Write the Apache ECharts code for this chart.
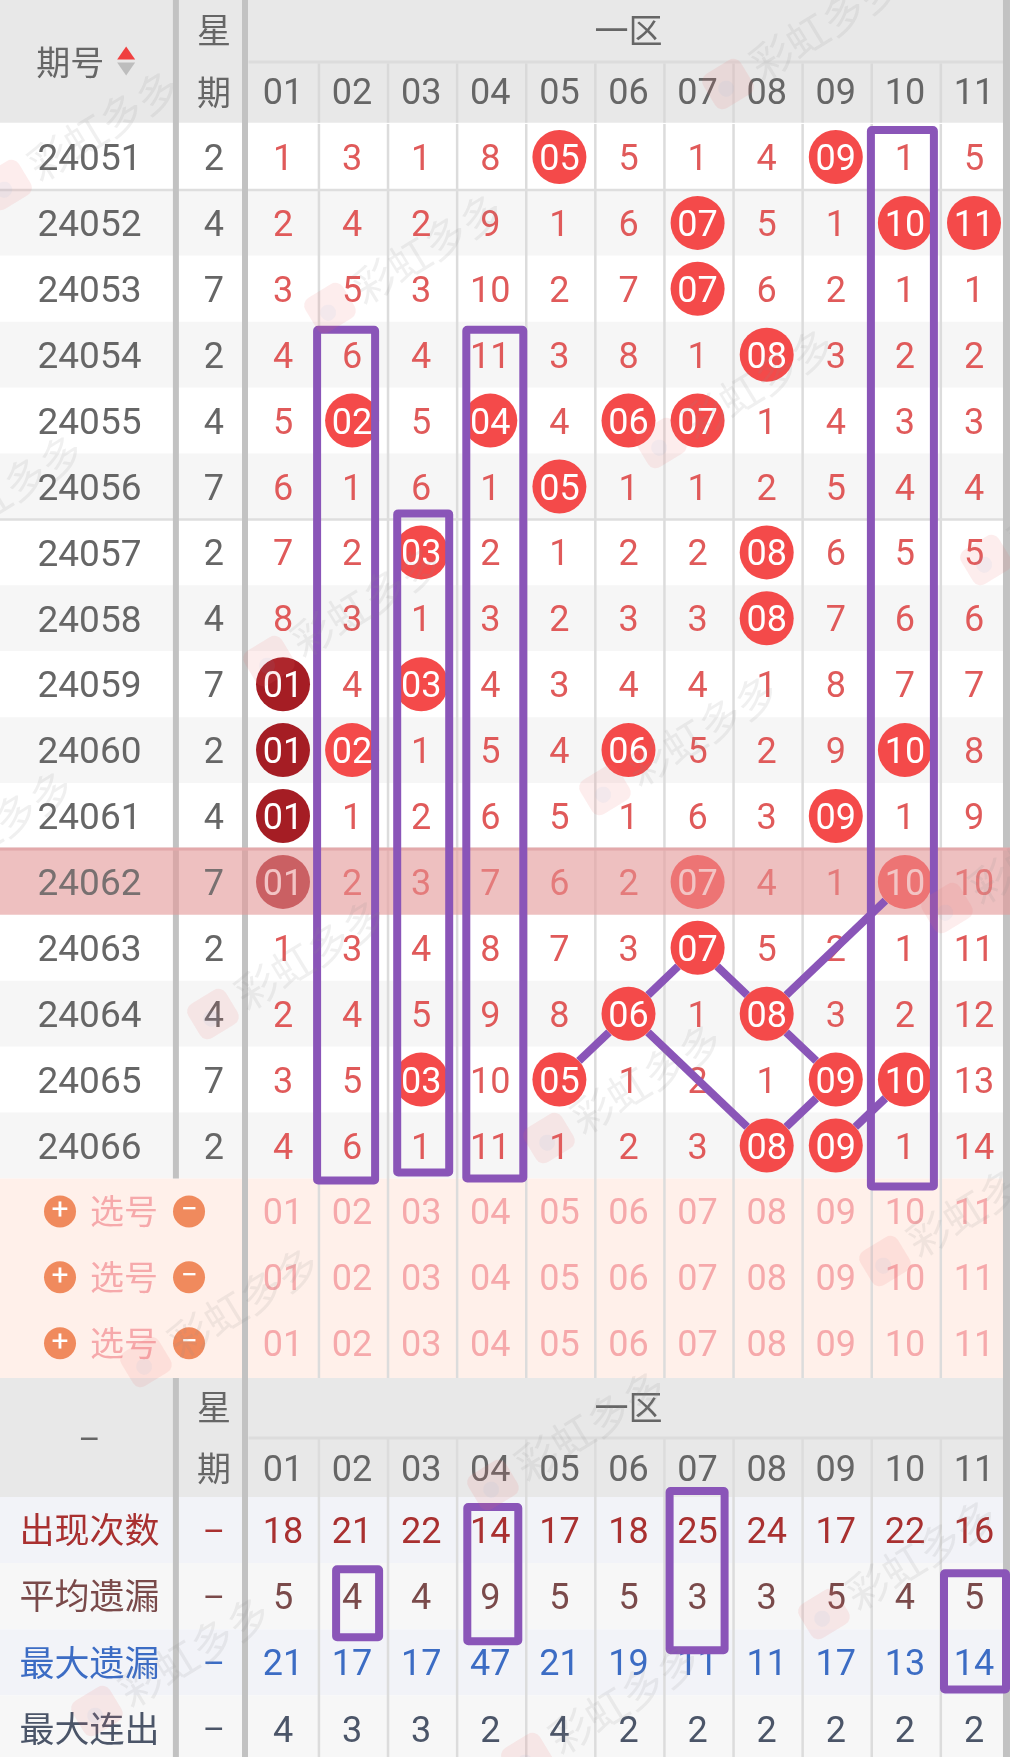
<!DOCTYPE html>
<html>
<head>
<meta charset="utf-8">
<style>html,body{margin:0;padding:0;background:#fff}#c{width:1010px;height:1757px}</style>
<script src="https://cdn.jsdelivr.net/npm/echarts@6/dist/echarts.min.js"></script>
</head>
<body>
<div id="c"></div>
<script>
// ---------- data ----------
const columns = ['01','02','03','04','05','06','07','08','09','10','11'];
const issues = ['24051','24052','24053','24054','24055','24056','24057','24058','24059','24060','24061','24062','24063','24064','24065','24066'];
const weekdays = [2,4,7,2,4,7,2,4,7,2,4,7,2,4,7,2];
// 0 = the number was drawn in that issue (ball); otherwise the miss count
const r24051 = [1,3,1,8,0,5,1,4,0,1,5];
const r24052 = [2,4,2,9,1,6,0,5,1,0,0];
const r24053 = [3,5,3,10,2,7,0,6,2,1,1];
const r24054 = [4,6,4,11,3,8,1,0,3,2,2];
const r24055 = [5,0,5,0,4,0,0,1,4,3,3];
const r24056 = [6,1,6,1,0,1,1,2,5,4,4];
const r24057 = [7,2,0,2,1,2,2,0,6,5,5];
const r24058 = [8,3,1,3,2,3,3,0,7,6,6];
const r24059 = [0,4,0,4,3,4,4,1,8,7,7];
const r24060 = [0,0,1,5,4,0,5,2,9,0,8];
const r24061 = [0,1,2,6,5,1,6,3,0,1,9];
const r24062 = [0,2,3,7,6,2,0,4,1,0,10];
const r24063 = [1,3,4,8,7,3,0,5,2,1,11];
const r24064 = [2,4,5,9,8,0,1,0,3,2,12];
const r24065 = [3,5,0,10,0,1,2,1,0,0,13];
const r24066 = [4,6,1,11,1,2,3,0,0,1,14];
const drawRows = [r24051,r24052,r24053,r24054,r24055,r24056,r24057,r24058,r24059,r24060,r24061,r24062,r24063,r24064,r24065,r24066];
const statNames = ['出现次数','平均遗漏','最大遗漏','最大连出'];
const statCount = [18,21,22,14,17,18,25,24,17,22,16];
const statAvg   = [5,4,4,9,5,5,3,3,5,4,5];
const statMax   = [21,17,17,47,21,19,11,11,17,13,14];
const statRun   = [4,3,3,2,4,2,2,2,2,2,2];
const statRows = [statCount,statAvg,statMax,statRun];
// annotation links: [col, issue] -> [col, issue]
const links = [
  [4,'24065',5,'24064'],[5,'24064',6,'24063'],[6,'24063',7,'24064'],[7,'24064',8,'24065'],
  [5,'24064',7,'24066'],[7,'24066',8,'24065'],[7,'24064',9,'24062'],[8,'24066',9,'24065']
];
// annotation boxes in cell terms
const drawBoxes = [[1,'24054','24066'],[2,'24057','24066'],[3,'24054','24066'],[9,'24051','24066']];
const statBoxes = [[3,0,1],[1,1,1],[6,0,1],[10,1,2]];

// ---------- layout / style ----------
const drawBoxPad = [[35,25,23,35],[24,39,28,27],[24,25,33,33],[34,27,29,41]]; // left, top, right, bottom px
const statBoxPad = [[23,23,28,45],[16,27,27,41],[28,39,27,54],[30,23,32,27]];
const COLW = 69.1, COL0 = 283;
const xMin = -COL0/COLW, xMax = (1010-COL0)/COLW;
const ROWH = 65.9, ROW0 = 157, SPLIT = 1378;
const ROWH2 = 66.2, ROW02 = 1530;
const NUMX = -2.8, WEEKX = -1, RIGHT = 10.47;
const DIGIT = 'Roboto, "Noto Sans CJK SC", sans-serif';
const CJK = '"Noto Sans CJK SC", sans-serif';
const PURPLE = '#8a55b8', RED = '#f44a4a', DARK = '#a51d24';
const GRAYTXT = '#666', CELLRED = '#e05a5a', PICKTXT = '#f6a9ab';
const statColors = ['#a93030','#7a4a4a','#3c6cc4','#4b5568'];
const DY = 4; // digit baseline nudge

function rects(g, items, z){ // [x0,y0,x1,y1,color]
  return {type:'custom', xAxisIndex:g, yAxisIndex:g, z, silent:true, clip:false, animation:false,
    data:items.map(d=>d.slice(0,4)), encode:{x:[0,2],y:[1,3]},
    renderItem:(p,api)=>{
      const a=api.coord([api.value(0),api.value(1)]), b=api.coord([api.value(2),api.value(3)]);
      return {type:'rect',shape:{x:a[0],y:a[1],width:b[0]-a[0],height:b[1]-a[1]},style:{fill:items[p.dataIndex][4]}};
    }};
}
function lines(g, items, z){ // [x0,y0,x1,y1,color,width,trimPx]
  return {type:'custom', xAxisIndex:g, yAxisIndex:g, z, silent:true, clip:false, animation:false,
    data:items.map(d=>d.slice(0,4)), encode:{x:[0,2],y:[1,3]},
    renderItem:(p,api)=>{
      const it=items[p.dataIndex];
      let a=api.coord([api.value(0),api.value(1)]), b=api.coord([api.value(2),api.value(3)]);
      const t=it[6]||0;
      if(t){const dx=b[0]-a[0],dy=b[1]-a[1],l=Math.hypot(dx,dy);
        a=[a[0]+dx/l*t,a[1]+dy/l*t]; b=[b[0]-dx/l*t,b[1]-dy/l*t];}
      return {type:'line',shape:{x1:a[0],y1:a[1],x2:b[0],y2:b[1]},style:{stroke:it[4],lineWidth:it[5]}};
    }};
}
function texts(g, items, z){ // [x,y,text,color,size,font]
  return {type:'custom', xAxisIndex:g, yAxisIndex:g, z, silent:true, clip:false, animation:false,
    data:items.map(d=>d.slice(0,2)), encode:{x:0,y:1},
    renderItem:(p,api)=>{
      const it=items[p.dataIndex], c=api.coord([api.value(0),api.value(1)]);
      const off = it[5] ? 0 : DY;
      return {type:'text',x:c[0],y:c[1]+off,style:{text:it[2],fill:it[3],font:`${it[4]}px ${it[5]||DIGIT}`,align:'center',verticalAlign:'middle'}};
    }};
}
function boxes(g, items, z){ // [col,row0,row1,l,t,r,b]
  return {type:'custom', xAxisIndex:g, yAxisIndex:g, z, silent:true, clip:false, animation:false,
    data:items.map(d=>d.slice(0,3)), encode:{x:0,y:[1,2]},
    renderItem:(p,api)=>{
      const it=items[p.dataIndex];
      const a=api.coord([api.value(0),api.value(1)]), b=api.coord([api.value(0),api.value(2)]);
      const x=a[0]-it[3], y=a[1]-it[4];
      return {type:'rect',shape:{x,y,width:it[3]+it[5],height:b[1]+it[6]-y,r:1},style:{fill:'none',stroke:PURPLE,lineWidth:8,lineJoin:'round'}};
    }};
}

const idx = s => issues.indexOf(s);
const hi = idx('24062');
const series = [];

// --- backgrounds, top grid
const yTop = -ROW0/ROWH, yBot = (SPLIT-ROW0)/ROWH;
const bg0 = [[xMin,yTop,xMax,-0.52,'#e8e8e8']];
issues.forEach((s,i)=>bg0.push([xMin,i-0.5,xMax,i+0.5,i%2?'#f6f6f6':'#ffffff']));
bg0.push([xMin,15.5,xMax,yBot,'#fff0ea']);
series.push(rects(0,bg0,1));

const sep0 = [];
for(let i=0;i<10;i++){
  sep0.push([i+0.52,-1.42,i+0.52,-0.52,'#d9d9d9',2.5]);
  sep0.push([i+0.52,-0.5,i+0.52,yBot,'#dcdcdc',2.5]);
}
sep0.push([-0.5,-1.44,RIGHT,-1.44,'#dcdcdc',3]);
[0.5,5.5,10.5].forEach(y=>sep0.push([xMin,y,xMax,y,'#dedede',2.5]));
sep0.push([-1.55,yTop,-1.55,15.5,'#c2c2c2',6]);
sep0.push([-0.55,yTop,-0.55,yBot,'#c2c2c2',6]);
sep0.push([RIGHT,yTop,RIGHT,yBot,'#c2c2c2',7]);
series.push(lines(0,sep0,2));

// --- text, top grid
const t0 = [
  [-3.08,-1.44,'期号',GRAYTXT,34,CJK],
  [WEEKX,-1.93,'星',GRAYTXT,34,CJK],
  [WEEKX,-0.99,'期',GRAYTXT,34,CJK],
  [5,-1.93,'一区',GRAYTXT,34,CJK]
];
const t0top = [];
columns.forEach((c,i)=>t0.push([i,-1,c,GRAYTXT,36]));
issues.forEach((s,k)=>{
  (k===hi?t0top:t0).push([NUMX,k,s,k===hi?'#787070':GRAYTXT,37]);
  (k===hi?t0top:t0).push([WEEKX,k,String(weekdays[k]),k===hi?'#787070':GRAYTXT,36]);
  drawRows[k].forEach((v,i)=>{ if(v) t0.push([i,k,String(v),CELLRED,36]); });
});
[16,17,18].forEach(k=>{
  t0.push([-2.3,k,'选号',PICKTXT,34,CJK]);
  columns.forEach((c,i)=>t0.push([i,k,c,PICKTXT,36]));
});
series.push(texts(0,t0,3));

// --- balls
const balls = [];
drawRows.forEach((r,k)=>r.forEach((v,i)=>{ if(!v) balls.push([i,k,columns[i]]); }));
series.push({type:'scatter',xAxisIndex:0,yAxisIndex:0,z:4,silent:true,animation:false,symbol:'circle',symbolSize:54,
  data:balls,
  itemStyle:{color:p=>p.data[0]===0?DARK:RED,opacity:1},
  label:{show:true,position:'inside',offset:[0,DY],formatter:p=>p.data[2],color:'#fff',fontFamily:'Roboto',fontSize:36}});

// --- pick controls
const plus=[],minus=[];
[16,17,18].forEach(k=>{plus.push([-3.227,k,'+']);minus.push([-1.36,k,'−']);});
[plus,minus].forEach(d=>series.push({type:'scatter',xAxisIndex:0,yAxisIndex:0,z:4,silent:true,animation:false,symbol:'circle',symbolSize:32,
  data:d,itemStyle:{color:'#f08a5d',opacity:1},
  label:{show:true,position:'inside',formatter:p=>p.data[2],color:'#fff',fontFamily:'Roboto',fontSize:30}}));

// --- sort triangles
series.push({type:'scatter',xAxisIndex:0,yAxisIndex:0,z:4,silent:true,animation:false,symbol:'triangle',symbolSize:[18,13],
  data:[[-2.27,-1.58]],itemStyle:{color:'#f04040',opacity:1}});
series.push({type:'scatter',xAxisIndex:0,yAxisIndex:0,z:4,silent:true,animation:false,symbol:'triangle',symbolSize:[18,13],symbolRotate:180,
  data:[[-2.27,-1.335]],itemStyle:{color:'#bdbdbd',opacity:1}});

// --- highlighted row overlay
series.push(rects(0,[[xMin,hi-0.5,xMax,hi+0.5,'rgba(232,150,150,0.56)']],5));
series.push(lines(0,[[xMin,hi-0.5,xMax,hi-0.5,'#e3a9ab',3]],5));
series.push(texts(0,t0top,6));

// --- links + boxes, top grid
series.push(lines(0,links.map(l=>[l[0],idx(l[1]),l[2],idx(l[3]),PURPLE,8,27]),6));
series.push(boxes(0,drawBoxes.map((b,i)=>[b[0],idx(b[1]),idx(b[2]),...drawBoxPad[i]]),7));

// --- bottom grid
const yTop2 = (SPLIT-ROW02)/ROWH2, yBot2 = (1757-ROW02)/ROWH2;
const bg1 = [[xMin,yTop2,xMax,-0.5,'#e8e8e8']];
statRows.forEach((r,k)=>bg1.push([xMin,k-0.5,xMax,k+0.5+(k===3?1:0),k%2?'#f7f7f7':'#f2f3f8']));
series.push(rects(1,bg1,1));
const sep1=[];
for(let i=0;i<10;i++) sep1.push([i+0.52,-1.39,i+0.52,yBot2,'#dcdcdc',2.5]);
sep1.push([-0.5,-1.39,RIGHT,-1.39,'#dcdcdc',3]);
sep1.push([-1.55,yTop2,-1.55,yBot2,'#c2c2c2',6]);
sep1.push([-0.55,yTop2,-0.55,yBot2,'#c2c2c2',6]);
sep1.push([RIGHT,yTop2,RIGHT,yBot2,'#c2c2c2',7]);
series.push(lines(1,sep1,2));
const t1=[
  [NUMX,-1.38,'–',GRAYTXT,34],
  [WEEKX,-1.85,'星',GRAYTXT,34,CJK],
  [WEEKX,-0.93,'期',GRAYTXT,34,CJK],
  [5,-1.85,'一区',GRAYTXT,34,CJK]
];
columns.forEach((c,i)=>t1.push([i,-0.93,c,GRAYTXT,36]));
statRows.forEach((r,k)=>{
  t1.push([NUMX,k,statNames[k],statColors[k],35,CJK]);
  t1.push([WEEKX,k,'–',statColors[k],34]);
  r.forEach((v,i)=>t1.push([i,k,String(v),statColors[k],36]));
});
series.push(texts(1,t1,3));
series.push(boxes(1,statBoxes.map((b,i)=>[...b,...statBoxPad[i]]),7));

// --- watermark
const marks = [[6,185],[330,308],[728,84],[661,443],[-90,549],[269,661],[986,560],[605,790],[-100,885],[213,1014],[549,1138],[947,908],[146,1362],[885,1261],[493,1485],[824,1614],[97,1711],[527,1758]];
const graphic = marks.map(m=>({type:'group',x:m[0],y:m[1],rotation:0.55,z:100,silent:true,children:[
  {type:'rect',shape:{x:-22,y:-20,width:44,height:40,r:9},style:{fill:'rgba(240,110,110,0.12)'},z:100},
  {type:'circle',shape:{cx:-4,cy:3,r:8},style:{fill:'rgba(110,165,230,0.07)'},z:101},
  {type:'text',x:30,y:0,style:{text:'彩虹多多',font:'42px "Noto Sans CJK SC"',fill:'rgba(140,140,140,0.13)',verticalAlign:'middle',align:'left'},z:100}
]}));

const chart = echarts.init(document.getElementById('c'),null,{renderer:'canvas'});
chart.setOption({
  animation:false,
  backgroundColor:'#fff',
  grid:[
    {left:0,right:0,top:0,height:SPLIT},
    {left:0,right:0,top:SPLIT,height:1757-SPLIT}
  ],
  xAxis:[0,1].map(g=>({gridIndex:g,type:'value',min:xMin,max:xMax,show:false})),
  yAxis:[
    {gridIndex:0,type:'value',inverse:true,min:yTop,max:yBot,show:false},
    {gridIndex:1,type:'value',inverse:true,min:yTop2,max:yBot2,show:false}
  ],
  series,
  graphic
});
</script>
</body>
</html>
